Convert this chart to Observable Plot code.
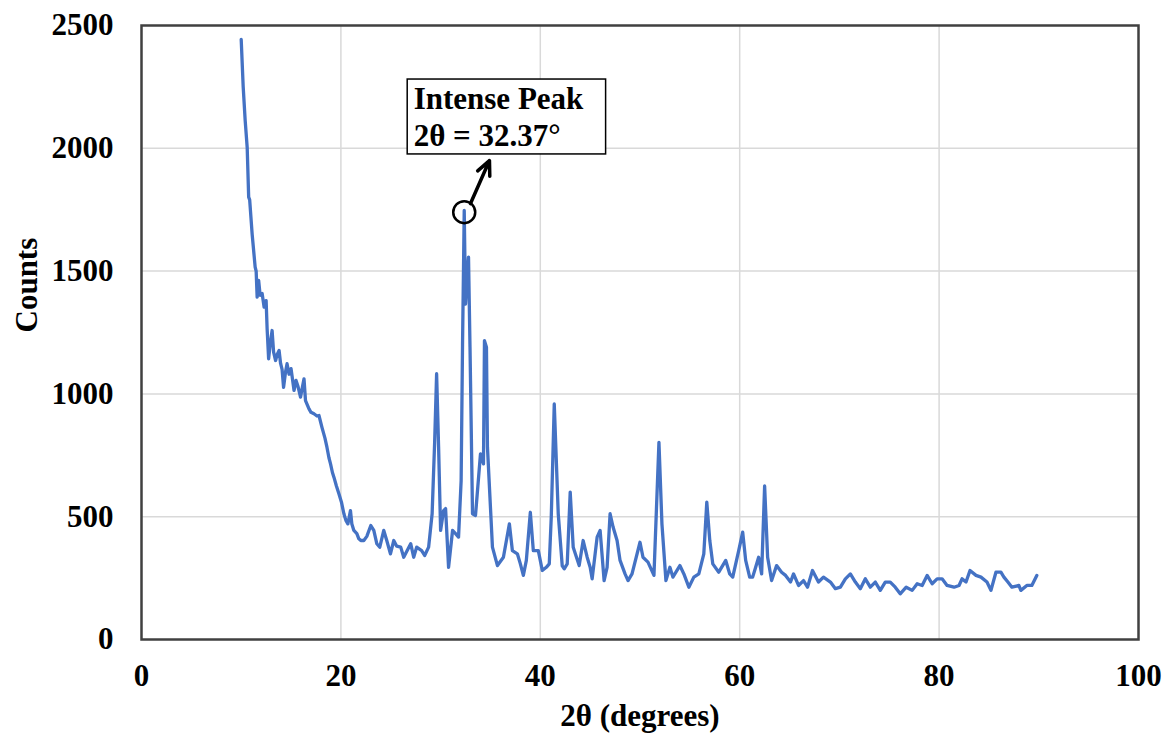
<!DOCTYPE html>
<html>
<head>
<meta charset="utf-8">
<script src="https://cdn.jsdelivr.net/npm/d3@7"></script>
<script src="https://cdn.jsdelivr.net/npm/@observablehq/plot@0.6"></script>
<style>
  html, body { margin: 0; padding: 0; background: #fff; }
  #chart { width: 1170px; height: 738px; }
</style>
</head>
<body>
<div id="chart"></div>
<script>
// ---- Data ----
const twoTheta = [
  10.0,10.2,10.4,10.6,10.75,10.85,11.1,11.4,11.5,11.6,11.75,11.9,12.1,12.3,12.5,12.6,12.75,12.9,13.1,13.25,
  13.45,13.6,13.8,13.95,14.1,14.25,14.45,14.6,14.8,15.0,15.3,15.5,15.7,15.95,16.15,16.3,16.45,16.8,17.0,17.3,
  17.6,17.8,18.1,18.4,18.6,18.8,18.96,19.15,19.3,19.55,19.8,20.05,20.3,20.5,20.7,20.96,21.1,21.3,21.6,21.8,
  22.0,22.3,22.6,23.0,23.3,23.6,23.9,24.3,24.6,24.97,25.3,25.6,26.0,26.3,27.0,27.3,27.6,28.1,28.4,28.8,
  29.15,29.4,29.6,29.8,30.0,30.3,30.5,30.8,31.2,31.5,31.8,32.06,32.2,32.37,32.5,32.7,32.8,32.95,33.2,33.5,
  34.0,34.3,34.4,34.6,34.7,35.2,35.7,36.3,36.9,37.2,37.7,38.0,38.3,38.6,39.0,39.3,39.8,40.2,40.6,40.9,
  41.1,41.4,41.8,42.2,42.4,42.7,43.0,43.3,43.9,44.3,44.7,45.0,45.2,45.7,46.0,46.4,46.7,47.0,47.3,47.7,
  48.0,48.5,48.8,49.2,50.0,50.3,50.8,51.4,51.9,52.2,52.6,53.0,53.3,54.0,54.4,54.9,55.4,55.9,56.4,56.7,
  57.0,57.3,57.9,58.6,59.0,59.3,59.9,60.3,60.6,61.0,61.3,61.6,61.9,62.2,62.5,62.8,63.2,63.7,64.2,64.6,
  65.1,65.4,65.9,66.4,66.8,67.3,67.9,68.4,69.1,69.6,70.1,70.6,71.1,71.6,72.1,72.6,73.1,73.6,74.1,74.6,
  75.1,75.6,76.1,76.7,77.3,77.8,78.3,78.8,79.3,79.8,80.3,80.8,81.5,82.0,82.3,82.7,83.1,83.7,84.2,84.8,
  85.2,85.7,86.2,86.5,86.9,87.3,88.0,88.2,88.8,89.3,89.8
];
const counts = [
  2443,2250,2113,2004,1801,1790,1650,1516,1500,1394,1462,1401,1409,1353,1380,1265,1143,1200,1258,1170,
  1136,1160,1177,1124,1100,1027,1090,1123,1080,1103,1014,1055,1030,987,1030,1061,973,939,925,919,
  910,912,864,820,783,740,715,680,661,625,593,560,512,485,471,525,470,444,431,410,
  403,403,420,464,444,390,376,444,403,349,403,380,376,335,390,335,376,362,342,376,
  512,800,1082,783,444,525,533,294,444,431,417,647,1200,1747,1366,1500,1557,1190,512,505,
  756,715,1217,1190,783,376,301,335,471,362,349,308,261,322,518,362,362,281,294,308,
  500,959,512,300,288,308,600,376,301,403,335,294,247,417,444,240,294,512,458,403,
  322,267,240,267,396,335,315,261,803,471,240,294,254,301,267,213,254,267,349,559,
  403,308,274,322,267,254,362,437,322,254,254,294,335,267,625,335,240,301,274,261,
  234,267,220,240,213,281,234,254,234,207,213,247,267,234,207,247,213,234,200,234,
  234,213,186,213,200,227,220,261,227,247,247,220,213,220,247,234,281,261,254,234,
  200,274,274,254,234,213,220,200,220,220,261
];
const xTicks = [0, 20, 40, 60, 80, 100];
const yTicks = [0, 500, 1000, 1500, 2000, 2500];
const xTitle = "2θ (degrees)";
const yTitle = "Counts";
const annotationLines = ["Intense Peak", "2θ = 32.37°"];
const peak = {x: 32.37, y: 1740};

const data = twoTheta.map((t, i) => ({t, c: counts[i]}));

const font = "'Liberation Serif', 'Times New Roman', serif";
const fs = 31;

const chart = Plot.plot({
  width: 1170,
  height: 738,
  marginLeft: 141,
  marginRight: 32,
  marginTop: 25,
  marginBottom: 99,
  style: {fontFamily: font, fontSize: fs + "px", fontWeight: "bold", color: "#000", background: "#fff"},
  x: {domain: [0, 100]},
  y: {domain: [0, 2500]},
  marks: [
    Plot.gridX(xTicks.slice(1, -1), {stroke: "#d9d9d9", strokeOpacity: 1, strokeWidth: 1.5}),
    Plot.gridY(yTicks.slice(1, -1), {stroke: "#d9d9d9", strokeOpacity: 1, strokeWidth: 1.5}),
    Plot.axisX(xTicks, {tickSize: 0, tickPadding: 24, tickFormat: d => String(d), label: null, fontSize: fs, fontWeight: "bold", fill: "#000"}),
    Plot.axisY(yTicks, {tickSize: 0, tickPadding: 28, tickFormat: d => String(d), label: null, fontSize: fs, fontWeight: "bold", fill: "#000"}),
    Plot.text([xTitle], {frameAnchor: "bottom", dy: 86, fontSize: fs, fontWeight: "bold", fill: "#000"}),
    Plot.text([yTitle], {frameAnchor: "left", dx: -114, rotate: -90, fontSize: fs, fontWeight: "bold", fill: "#000"}),
    Plot.line(data, {x: "t", y: "c", stroke: "#4472C4", strokeWidth: 3.3, strokeLinejoin: "round"}),
    Plot.frame({stroke: "#404040", strokeWidth: 2.5}),
    // annotation
    Plot.dot([peak], {x: "x", y: "y", r: 11, stroke: "#000", strokeWidth: 2.5, fill: "none"}),
    Plot.arrow([{x1: 33.0, y1: 1775, x2: 34.9, y2: 1950}], {x1: "x1", y1: "y1", x2: "x2", y2: "y2", stroke: "#000", strokeWidth: 3.5, headLength: 14, headAngle: 50}),
    Plot.rect([{x1: 26.7, x2: 46.6, y1: 1975, y2: 2280}], {x1: "x1", x2: "x2", y1: "y1", y2: "y2", fill: "#fff", stroke: "#000", strokeWidth: 1.5}),
    Plot.text([annotationLines.join("\n")], {x: 27.3, y: 2268, textAnchor: "start", lineAnchor: "top", lineHeight: 1.19, fontSize: fs, fontWeight: "bold", fill: "#000"})
  ]
});
document.getElementById("chart").appendChild(chart);
</script>
</body>
</html>
